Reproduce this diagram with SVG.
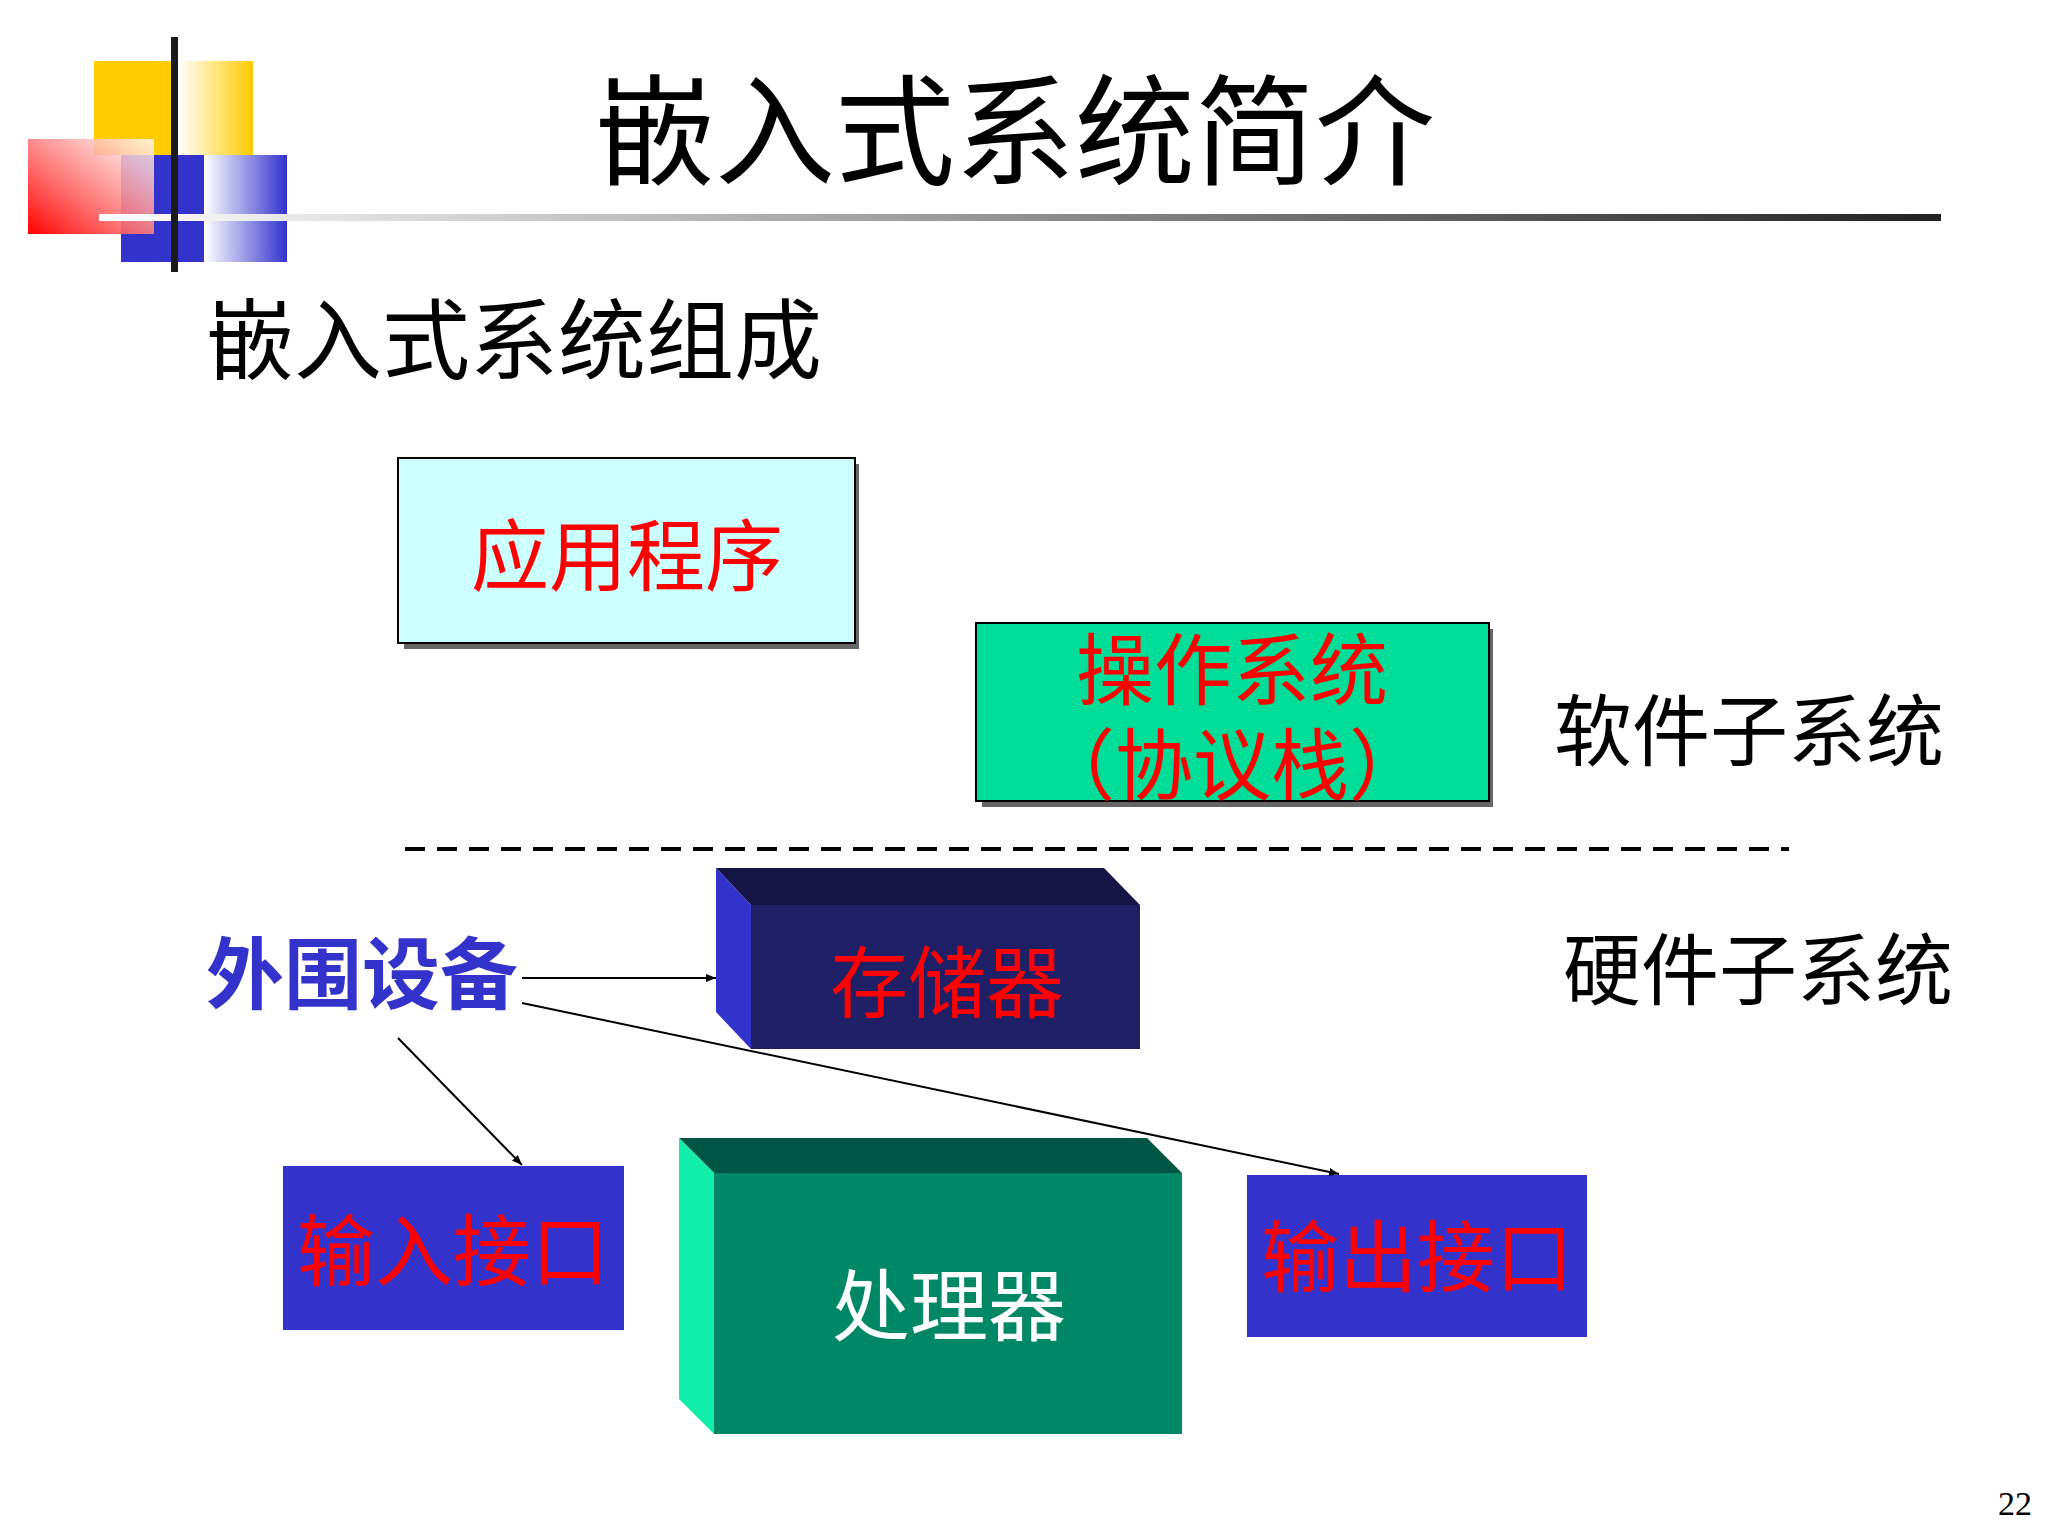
<svg xmlns="http://www.w3.org/2000/svg" width="2048" height="1536" viewBox="0 0 2048 1536">
<defs>
<linearGradient id="gy" x1="0" x2="1" y1="0" y2="0"><stop offset="0" stop-color="#fff"/><stop offset="1" stop-color="#ffcc00"/></linearGradient>
<linearGradient id="gb" x1="0" x2="1" y1="0" y2="0"><stop offset="0" stop-color="#fff"/><stop offset="1" stop-color="#3333cc"/></linearGradient>
<linearGradient id="gr" x1="1" x2="0" y1="0" y2="1"><stop offset="0" stop-color="#fff" stop-opacity="0.8"/><stop offset="1" stop-color="#ff0000"/></linearGradient>
<linearGradient id="gl" x1="0" x2="1" y1="0" y2="0"><stop offset="0" stop-color="#fff"/><stop offset="1" stop-color="#222"/></linearGradient>
<marker id="ah" markerWidth="10" markerHeight="8" refX="10" refY="4" orient="auto" markerUnits="userSpaceOnUse" viewBox="0 0 10 8"><path d="M0,0 L10,4 L0,8 z" fill="#000"/></marker>
<style>
.cjk{font-family:"Noto Sans CJK SC","Liberation Serif",serif}
.red{fill:#ff0000}
.box{stroke:#000;stroke-width:2}
</style>
</defs>
<rect width="2048" height="1536" fill="#fff"/>
<g id="logo">
<rect x="94" y="61" width="80" height="94" fill="#ffcc00"/>
<rect x="178" y="61" width="75" height="94" fill="url(#gy)"/>
<rect x="121" y="155" width="83" height="107" fill="#3333cc"/>
<rect x="204" y="155" width="83" height="107" fill="url(#gb)"/>
<rect x="28" y="139" width="126" height="95" fill="url(#gr)"/>
<rect x="99" y="214" width="1842" height="7" fill="url(#gl)"/>
<rect x="171" y="37" width="7" height="235" fill="#1a1a1a"/>
</g>
<text x="1015" y="176" text-anchor="middle" class="cjk" font-size="120" fill="#000">嵌入式系统简介</text>
<text x="206" y="372" class="cjk" font-size="88" fill="#000">嵌入式系统组成</text>
<g id="app">
<rect x="404" y="464" width="455" height="185" fill="#666"/>
<rect x="398" y="458" width="457" height="185" fill="#ccffff" class="box"/>
<text x="627" y="585" text-anchor="middle" class="cjk red" font-size="78">应用程序</text>
</g>
<g id="os">
<rect x="982" y="629" width="511" height="178" fill="#666"/>
<rect x="976" y="623" width="513" height="178" fill="#00dd99" class="box"/>
<text x="1232" y="699" text-anchor="middle" class="cjk red" font-size="78">操作系统</text>
<text x="1232" y="794" text-anchor="middle" class="cjk red" font-size="78">（协议栈）</text>
</g>
<text id="sw" x="1554" y="760" class="cjk" font-size="78" fill="#000">软件子系统</text>
<text id="hw" x="1563" y="999" class="cjk" font-size="78" fill="#000">硬件子系统</text>
<line x1="405" y1="849" x2="1789" y2="849" stroke="#000" stroke-width="4" stroke-dasharray="20,12"/>
<g id="mem">
<polygon points="716,868 1104,868 1140,905 751,905" fill="#151545"/>
<polygon points="716,868 751,905 751,1049 716,1012" fill="#3333cc"/>
<rect x="751" y="905" width="389" height="144" fill="#1f1f66"/>
<text x="947" y="1012" text-anchor="middle" class="cjk red" font-size="78">存储器</text>
</g>
<text id="periph" x="206" y="1003" class="cjk" font-size="78" font-weight="bold" fill="#3333cc">外围设备</text>
<g id="in">
<rect x="283" y="1166" width="341" height="164" fill="#3333cc"/>
<text x="453" y="1280" text-anchor="middle" class="cjk red" font-size="78">输入接口</text>
</g>
<g id="cpu">
<polygon points="679,1138 1147,1138 1182,1173 714,1173" fill="#005544"/>
<polygon points="679,1138 714,1173 714,1434 679,1399" fill="#11eeaa"/>
<rect x="714" y="1173" width="468" height="261" fill="#008866"/>
<text x="949" y="1335" text-anchor="middle" class="cjk" font-size="78" fill="#fff">处理器</text>
</g>
<g id="out">
<rect x="1247" y="1175" width="340" height="162" fill="#3333cc"/>
<text x="1417" y="1286" text-anchor="middle" class="cjk red" font-size="78">输出接口</text>
</g>
<g id="connectors" stroke="#000" stroke-width="2" fill="none">
<line x1="522" y1="978" x2="716" y2="978" marker-end="url(#ah)"/>
<line x1="522" y1="1003" x2="1339" y2="1174" marker-end="url(#ah)"/>
<line x1="398" y1="1038" x2="522" y2="1165" marker-end="url(#ah)"/>
</g>
<text x="1998" y="1515" font-family="Liberation Serif,serif" font-size="34" fill="#000">22</text>
</svg>
